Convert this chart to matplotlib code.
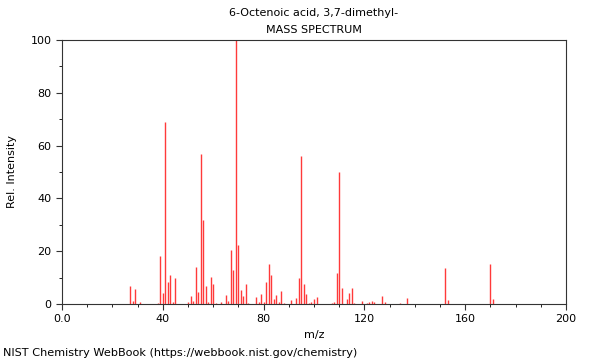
import matplotlib
matplotlib.use("Agg")
import matplotlib.pyplot as plt
from matplotlib.ticker import MultipleLocator, FixedFormatter, FixedLocator

# peak list (m/z, relative intensity)
mz = [27, 28, 29, 31, 38, 39, 40, 41, 42, 43, 44, 45,
      50, 51, 52, 53, 54, 55, 56, 57, 58, 59, 60, 61, 63, 65, 66, 67, 68,
      69, 70, 71, 72, 73, 74, 77, 78, 79, 80, 81, 82, 83, 84, 85, 86, 87, 88,
      91, 93, 94, 95, 96, 97, 98, 99, 100, 101,
      107, 108, 109, 110, 111, 113, 114, 115, 116, 119, 121, 122, 123, 124,
      127, 128, 134, 137, 152, 153, 170, 171]
intensity = [6.7, 1.2, 5.7, 0.8, 0.5, 18.1, 4.0, 69.0, 8.5, 11.0, 0.6, 10.0,
             0.9, 3.1, 1.3, 14.2, 4.4, 57.0, 32.0, 7.0, 0.9, 10.4, 7.4, 0.5, 0.7, 3.5, 1.1, 20.5, 13.0,
             100.0, 22.2, 5.4, 3.0, 7.4, 0.5, 2.8, 0.6, 3.7, 0.9, 8.5, 15.3, 10.8, 1.8, 3.5, 0.7, 4.9, 0.4,
             1.7, 2.4, 9.9, 56.0, 7.6, 3.9, 0.5, 0.9, 2.0, 2.5,
             0.5, 0.9, 11.7, 50.0, 5.9, 1.8, 4.2, 5.9, 0.4, 1.3, 0.4, 0.8, 1.0, 0.6,
             3.0, 0.7, 0.5, 2.4, 13.7, 1.7, 15.0, 1.8]

x_ticks = [0, 40, 80, 120, 160, 200]
x_labels = ["0.0", "40", "80", "120", "160", "200"]

fig = plt.figure(figsize=(6, 3.6), dpi=100)
ax = fig.add_axes([62 / 600, 1 - 304 / 360, 504 / 600, 264 / 360])

ax.vlines(mz, 0, intensity, colors="#ff3a3a", linewidth=1.0)

ax.set_xlim(0, 200)
ax.set_ylim(0, 100)
ax.xaxis.set_major_locator(FixedLocator(x_ticks))
ax.xaxis.set_major_formatter(FixedFormatter(x_labels))
ax.xaxis.set_minor_locator(MultipleLocator(10))
ax.yaxis.set_major_locator(MultipleLocator(20))
ax.yaxis.set_minor_locator(MultipleLocator(10))
ax.tick_params(labelsize=8, length=4, width=0.8, color="#333333")
ax.tick_params(which="minor", length=2, width=0.6)
for s in ax.spines.values():
    s.set_color("#333333")
    s.set_linewidth(0.8)

ax.set_xlabel("m/z", fontsize=8)
ax.set_ylabel("Rel. Intensity", fontsize=8)
ax.yaxis.set_label_coords(-(62 - 17) / 504, 0.5)

fig.text(314 / 600, 1 - 13 / 360, "6-Octenoic acid, 3,7-dimethyl-", ha="center", va="center", fontsize=8)
fig.text(314 / 600, 1 - 30 / 360, "MASS SPECTRUM", ha="center", va="center", fontsize=8)
fig.text(3 / 600, 1 - 353 / 360, "NIST Chemistry WebBook (https://webbook.nist.gov/chemistry)",
         ha="left", va="center", fontsize=8.1)

fig.savefig("out.png", dpi=100)
